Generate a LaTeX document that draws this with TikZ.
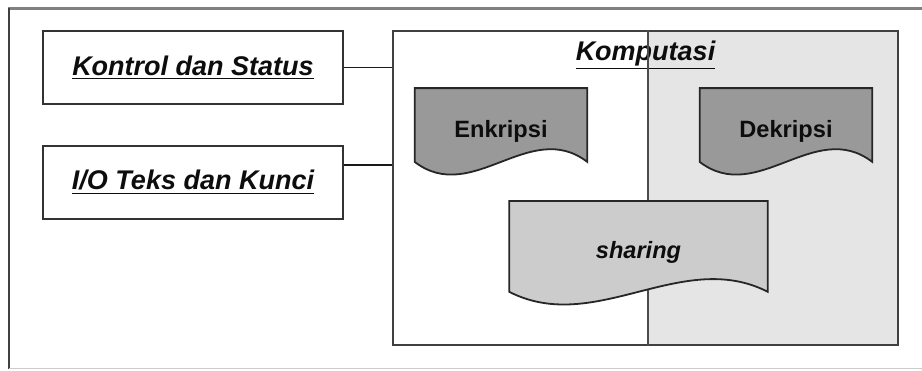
\documentclass[tikz,border=0pt]{standalone}
\usepackage{fontspec}
\setmainfont{Liberation Sans}
\usetikzlibrary{positioning, calc}

\begin{document}
\begin{tikzpicture}[
  x=0.5pt, y=-0.5pt,
  node distance=20pt,
  box/.style={draw=black!80, line width=0.9pt, minimum width=150pt, minimum height=36.5pt,
              font=\fontsize{13.5}{16}\selectfont\bfseries\itshape, text=black!95},
  ttl/.style={font=\fontsize{13.5}{16}\selectfont\bfseries\itshape, text=black!95, inner sep=0pt},
  comp/.style={draw=black!75, line width=1pt, minimum width=252.5pt, minimum height=157pt,
               path picture={\fill[black!10] ([xshift=1.25pt]path picture bounding box.north)
                 rectangle (path picture bounding box.south east);}},
  divline/.style={black!70, line width=1pt},
  conn/.style={black!90, line width=0.9pt},
  doc/.style={inner sep=0pt, text=black!95, font=\fontsize{11.8}{14}\selectfont\bfseries,
    path picture={
      \coordinate (ul) at ([shift={(0.6pt,-0.6pt)}]path picture bounding box.north west);
      \coordinate (ur) at ([shift={(-0.6pt,-0.6pt)}]path picture bounding box.north east);
      \coordinate (lr) at ([shift={(-0.6pt,7pt)}]path picture bounding box.south east);
      \coordinate (ll) at ([shift={(0.6pt,7pt)}]path picture bounding box.south west);
      \draw[black!85, line width=0.9pt, fill=#1] (ul) -- (ur) -- (lr)
        .. controls ($(lr)!1/3!(ll)+(0pt,22pt)$) and ($(lr)!2/3!(ll)+(0pt,-22pt)$) .. (ll) -- cycle;
    }}
]
\useasboundingbox (0,0) rectangle (922,370);
\draw[black!50, line width=1.5pt] (8,8.5) -- (922,8.5);
\draw[black!75, line width=1pt] (9,8) -- (9,369);
\draw[black!20, line width=0.5pt] (9,368.5) -- (922,368.5);

\node[box] (kontrol) at (193,67.5) {\underline{Kontrol dan Status}};
\node[box, below=of kontrol] (io) {\underline{I/O Teks dan Kunci}};

\node[comp] (komp) at (645.5,188) {};
\node[ttl, anchor=base] (kompt) at (645.5,60) {\underline{Komputasi}};
\draw[divline] ([xshift=1.25pt]komp.north) -- ([xshift=1.25pt]komp.south);

\draw[conn] (kontrol.east) -- (kontrol.east -| komp.west);
\coordinate (ioc) at ([yshift=8.5pt]io.east);
\draw[conn] (ioc) -- (ioc -| komp.west);

\node[doc=black!40, minimum width=87.5pt, minimum height=44.5pt] (enk) at (501,131.4) {Enkripsi};
\node[doc=black!40, minimum width=87.5pt, minimum height=44.5pt, right=54.6pt of enk] (dek) {Dekripsi};
\node[doc=black!20, minimum width=130.5pt, minimum height=53pt,
      font=\fontsize{11.8}{14}\selectfont\bfseries\itshape] (shr) at (638.5,252.8) {sharing};
\end{tikzpicture}
\end{document}
